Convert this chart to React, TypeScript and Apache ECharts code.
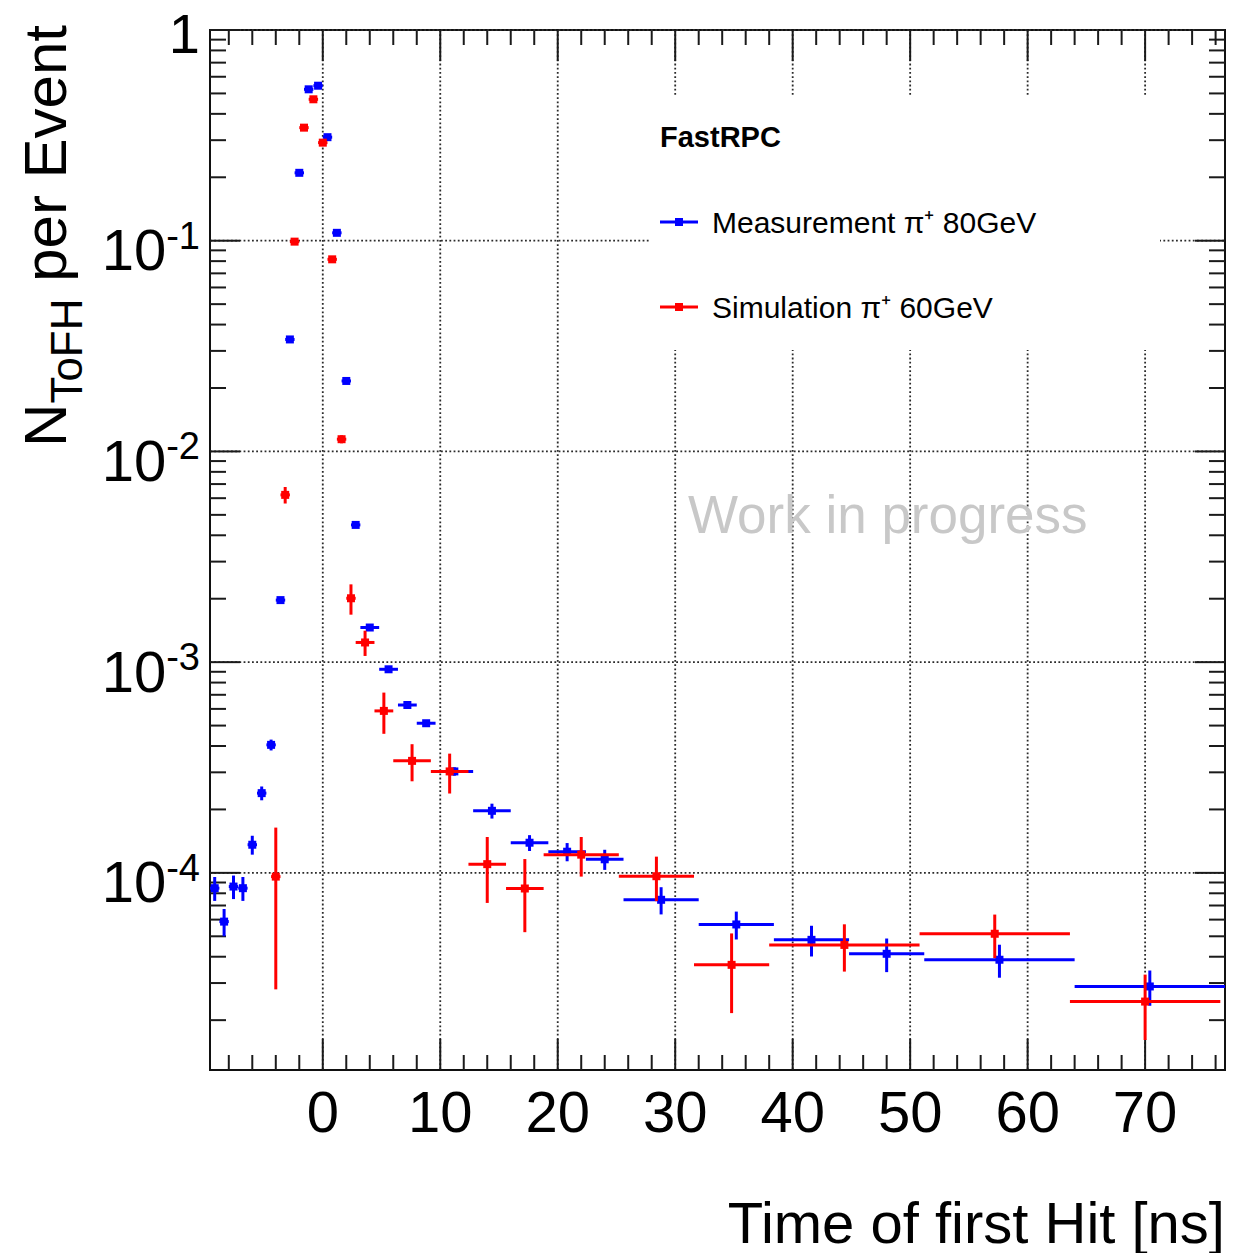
import React, { useEffect, useRef } from "react";
import * as echarts from "echarts";

// ---------------- data ----------------
// Measurement pi+ 80GeV (blue): bin low edge, bin high edge, value, error
const measLo = [-9.6, -8.8, -8.0, -7.2, -6.4, -5.6, -4.8, -4.0, -3.2, -2.4, -1.6, -0.8, 0.0, 0.8, 1.6, 2.4, 3.2, 4.8, 6.4, 8.0, 9.6, 12.8, 16.0, 19.2, 22.4, 25.6, 32.0, 38.4, 44.8, 51.2, 64.0];
const measHi = [-8.8, -8.0, -7.2, -6.4, -5.6, -4.8, -4.0, -3.2, -2.4, -1.6, -0.8, 0.0, 0.8, 1.6, 2.4, 3.2, 4.8, 6.4, 8.0, 9.6, 12.8, 16.0, 19.2, 22.4, 25.6, 32.0, 38.4, 44.8, 51.2, 64.0, 76.8];
const measY = [8.46e-5, 5.87e-5, 8.61e-5, 8.46e-5, 1.36e-4, 2.39e-4, 4.05e-4, 1.97e-3, 0.034, 0.21, 0.523, 0.544, 0.31, 0.109, 0.0216, 0.00448, 1.46e-3, 9.25e-4, 6.26e-4, 5.13e-4, 3.03e-4, 1.97e-4, 1.39e-4, 1.26e-4, 1.16e-4, 7.45e-5, 5.69e-5, 4.81e-5, 4.13e-5, 3.87e-5, 2.89e-5];
const measErr = [1.1e-5, 8.7e-6, 1.1e-5, 1.1e-5, 1.4e-5, 1.8e-5, 2.4e-5, 5e-5, 3e-4, 1.5e-3, 2.5e-3, 2.5e-3, 1.8e-3, 6e-4, 2.5e-4, 1e-4, 5e-5, 3e-5, 2.2e-5, 1.8e-5, 1.4e-5, 1.6e-5, 1.2e-5, 1.25e-5, 1.27e-5, 1.1e-5, 8.6e-6, 8e-6, 7.5e-6, 6.9e-6, 5.5e-6];

// Simulation pi+ 60GeV (red)
const simLo = [-4.4, -3.6, -2.8, -2.0, -1.2, -0.4, 0.4, 1.2, 2.0, 2.8, 4.4, 6.0, 9.2, 12.4, 15.6, 18.8, 25.2, 31.6, 38.0, 50.8, 63.6];
const simHi = [-3.6, -2.8, -2.0, -1.2, -0.4, 0.4, 1.2, 2.0, 2.8, 4.4, 6.0, 9.2, 12.4, 15.6, 18.8, 25.2, 31.6, 38.0, 50.8, 63.6, 76.4];
const simY = [9.6e-5, 6.22e-3, 0.099, 0.344, 0.469, 0.292, 0.0816, 0.01143, 2.01e-3, 1.24e-3, 5.87e-4, 3.4e-4, 3.03e-4, 1.1e-4, 8.43e-5, 1.22e-4, 9.64e-5, 3.66e-5, 4.55e-5, 5.14e-5, 2.45e-5];
const simErr = [6.8e-5, 5.6e-4, 2e-3, 4e-3, 5e-3, 4e-3, 1.5e-3, 5e-4, 3.3e-4, 1.7e-4, 1.3e-4, 6.8e-5, 6.5e-5, 3.8e-5, 3.2e-5, 2.6e-5, 2.3e-5, 1.5e-5, 1.15e-5, 1.2e-5, 8.4e-6];

const measName = "Measurement π⁺ 80GeV";
const simName = "Simulation π⁺ 60GeV";

// axis ticks
const xMajorTicks = [0, 10, 20, 30, 40, 50, 60, 70];
const xMinorTicks = [-8, -6, -4, -2, 2, 4, 6, 8, 12, 14, 16, 18, 22, 24, 26, 28, 32, 34, 36, 38, 42, 44, 46, 48, 52, 54, 56, 58, 62, 64, 66, 68, 72, 74, 76];
const yMajorTicks = [1e-4, 1e-3, 1e-2, 1e-1, 1];
const yMinorMantissas = [2, 3, 4, 5, 6, 7, 8, 9];
const yMinorDecades = [1e-5, 1e-4, 1e-3, 1e-2, 1e-1];

const X_MIN = -9.6;
const X_MAX = 76.8;
const Y_MIN = 1.16e-5;
const Y_MAX = 1;

const FONT = "Liberation Sans, Arial, Helvetica, sans-serif";

const yMinorTicks: number[] = [];
yMinorDecades.forEach((d) => yMinorMantissas.forEach((m) => yMinorTicks.push(m * d)));

const tickData: number[][] = [
  ...xMajorTicks.map((v) => [v, 1, 0]),
  ...xMinorTicks.map((v) => [v, 1, 1]),
  ...yMajorTicks.map((v) => [0, v, 2]),
  ...yMinorTicks.map((v) => [0, v, 3]),
];

const measData = measLo.map((lo, i) => [lo, measHi[i], measY[i], measErr[i]]);
const simData = simLo.map((lo, i) => [lo, simHi[i], simY[i], simErr[i]]);

function renderTicks(params: any, api: any) {
  const cs = params.coordSys;
  const left = cs.x;
  const top = cs.y;
  const right = cs.x + cs.width;
  const bottom = cs.y + cs.height;
  const kind = api.value(2);
  const tickStyle = { stroke: "#1a1a1a", lineWidth: 2 };
  const gridStyle = { stroke: "#2a2a2a", lineWidth: 1.8, lineDash: [1.8, 2.4] };
  const children: any[] = [];
  if (kind < 2) {
    const px = api.coord([api.value(0), api.value(1)])[0];
    const len = kind === 0 ? 31 : 15;
    if (kind === 0) {
      children.push({ type: "line", shape: { x1: px, y1: top, x2: px, y2: bottom }, style: gridStyle });
    }
    children.push({ type: "line", shape: { x1: px, y1: bottom, x2: px, y2: bottom - len }, style: tickStyle });
    children.push({ type: "line", shape: { x1: px, y1: top, x2: px, y2: top + len }, style: tickStyle });
  } else {
    const py = api.coord([api.value(0), api.value(1)])[1];
    const len = kind === 2 ? 30 : 16;
    if (kind === 2) {
      children.push({ type: "line", shape: { x1: left, y1: py, x2: right, y2: py }, style: gridStyle });
    }
    children.push({ type: "line", shape: { x1: left, y1: py, x2: left + len, y2: py }, style: tickStyle });
    children.push({ type: "line", shape: { x1: right, y1: py, x2: right - len, y2: py }, style: tickStyle });
  }
  return { type: "group", children };
}

function makeErrRender(color: string) {
  return (params: any, api: any) => {
    const lo = api.value(0);
    const hi = api.value(1);
    const y = api.value(2);
    const e = api.value(3);
    const xc = (lo + hi) / 2;
    const p = api.coord([xc, y]);
    const pl = api.coord([lo, y]);
    const ph = api.coord([hi, y]);
    const yTop = api.coord([xc, Math.min(y + e, Y_MAX)])[1];
    const yBot = api.coord([xc, Math.max(y - e, Y_MIN)])[1];
    const s = 8;
    return {
      type: "group",
      children: [
        { type: "line", shape: { x1: pl[0], y1: p[1], x2: ph[0], y2: p[1] }, style: { stroke: color, lineWidth: 3 } },
        { type: "line", shape: { x1: p[0], y1: yTop, x2: p[0], y2: yBot }, style: { stroke: color, lineWidth: 3 } },
        { type: "rect", shape: { x: p[0] - s / 2, y: p[1] - s / 2, width: s, height: s }, style: { fill: color } },
      ],
    };
  };
}

const legendIcon = "path://M0,2.5L38,2.5L38,5.5L0,5.5Z M15,0L23,0L23,8L15,8Z";

const option: any = {
  animation: false,
  backgroundColor: "#ffffff",
  textStyle: { fontFamily: FONT },
  grid: {
    left: 210,
    top: 30,
    right: 20,
    bottom: 183,
    containLabel: false,
    show: true,
    borderColor: "#111",
    borderWidth: 2,
    backgroundColor: "transparent",
  },
  xAxis: {
    type: "value",
    min: X_MIN,
    max: X_MAX,
    splitNumber: 8,
    axisLine: { show: false },
    axisTick: { show: false },
    splitLine: { show: false },
    axisLabel: {
      show: true,
      margin: 12,
      fontSize: 58,
      lineHeight: 58,
      color: "#000",
      fontFamily: FONT,
      formatter: (v: number) => (Math.abs(v / 10 - Math.round(v / 10)) < 1e-9 ? String(Math.round(v)) : ""),
    },
  },
  yAxis: {
    type: "log",
    logBase: 10,
    min: Y_MIN,
    max: Y_MAX,
    axisLine: { show: false },
    axisTick: { show: false },
    splitLine: { show: false },
    minorTick: { show: false },
    axisLabel: {
      show: true,
      margin: 10,
      color: "#000",
      fontFamily: FONT,
      formatter: (v: number) => {
        const lg = Math.log10(v);
        const k = Math.round(lg);
        if (Math.abs(lg - k) > 1e-6) return "";
        if (k === 0) return "{one|1}";
        return `{b|10}{e|${k}}`;
      },
      rich: {
        one: { fontSize: 56, padding: [6, 0, 0, 0], fontFamily: FONT, color: "#000" },
        b: { fontSize: 58, padding: [18, 0, 0, 0], fontFamily: FONT, color: "#000" },
        e: { fontSize: 38, padding: [14, 0, 24, 0], fontFamily: FONT, color: "#000" },
      },
    },
  },
  legend: {
    orient: "vertical",
    left: 660,
    top: 207,
    padding: 0,
    itemWidth: 38,
    itemHeight: 8,
    itemGap: 55,
    icon: legendIcon,
    selectedMode: false,
    data: [measName, simName],
    textStyle: { fontSize: 30, lineHeight: 30, color: "#000", fontFamily: FONT, padding: [0, 0, 0, 9] },
    z: 6,
  },
  graphic: [
    {
      type: "rect",
      shape: { x: 651, y: 95, width: 509, height: 255 },
      style: { fill: "#ffffff" },
      z: 3,
    },
    {
      type: "text",
      x: 660,
      y: 137,
      z: 6,
      style: { text: "FastRPC", fontSize: 29, fontWeight: "bold", fontFamily: FONT, fill: "#000", align: "left", verticalAlign: "middle" },
    },
    {
      type: "text",
      x: 688,
      y: 514,
      z: 6,
      style: { text: "Work in progress", fontSize: 53, fontFamily: FONT, fill: "#c8c8c8", align: "left", verticalAlign: "middle" },
    },
    {
      type: "text",
      x: 1225,
      y: 1222,
      z: 6,
      style: { text: "Time of first Hit [ns]", fontSize: 58, lineHeight: 52, fontFamily: FONT, fill: "#000", align: "right", verticalAlign: "middle" },
    },
    {
      type: "text",
      x: 51.5,
      y: 25,
      rotation: Math.PI / 2,
      z: 6,
      style: {
        text: "{n|N}{s|ToFH}{n| per Event}",
        align: "right",
        verticalAlign: "middle",
        fill: "#000",
        rich: {
          n: { fontSize: 60, padding: [0, 0, 13, 0], fontFamily: FONT, fill: "#000" },
          s: { fontSize: 44, padding: [29, 0, 0, 0], fontFamily: FONT, fill: "#000" },
        },
      },
    },
  ],
  series: [
    {
      type: "custom",
      name: "axes",
      renderItem: renderTicks,
      data: tickData,
      encode: { x: 0, y: 1 },
      z: 1,
      silent: true,
    },
    {
      type: "custom",
      name: measName,
      renderItem: makeErrRender("#0000ff"),
      data: measData,
      encode: { x: [0, 1], y: 2 },
      itemStyle: { color: "#0000ff" },
      z: 5,
    },
    {
      type: "custom",
      name: simName,
      renderItem: makeErrRender("#ff0000"),
      data: simData,
      encode: { x: [0, 1], y: 2 },
      itemStyle: { color: "#ff0000" },
      z: 5,
    },
  ],
};

export default function App() {
  const ref = useRef<HTMLDivElement>(null);
  useEffect(() => {
    document.body.style.margin = "0";
    const chart = echarts.init(ref.current as HTMLDivElement, null, { renderer: "svg" });
    chart.setOption(option);
    return () => {
      chart.dispose();
    };
  }, []);
  return <div ref={ref} style={{ width: 1245, height: 1253 }} />;
}
